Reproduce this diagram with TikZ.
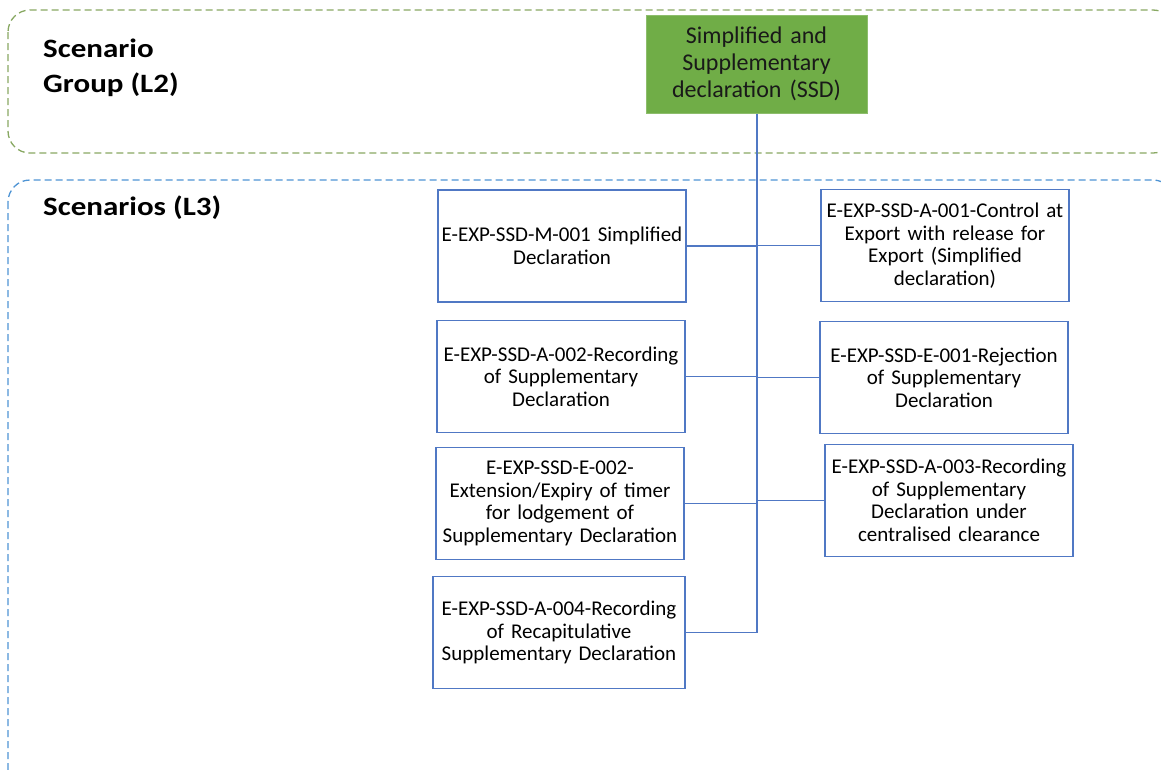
\documentclass[tikz,border=0pt]{standalone}
\usepackage{fontspec}
\setmainfont{Carlito}
\newfontfamily\zonefont[FakeStretch=1.17]{Carlito}
\usetikzlibrary{positioning,calc}
\definecolor{groupgreen}{RGB}{112,173,71}
\definecolor{zonegreen}{RGB}{136,168,98}
\definecolor{zoneblue}{RGB}{78,148,212}
\definecolor{boxblue}{RGB}{80,120,196}
\tikzset{
  zone/.style={
    dash pattern=on 7pt off 4pt,
    line width=1.3pt,
    rounded corners=22pt
  },
  zone label/.style={
    anchor=north west,
    align=left,
    inner sep=0pt,
    font=\zonefont\fontsize{26.5}{35}\selectfont\bfseries
  },
  group box/.style={
    draw=groupgreen!80!white,
    fill=groupgreen,
    line width=1pt,
    minimum width=221pt,
    minimum height=98pt,
    text width=215pt,
    inner xsep=3pt,
    align=center,
    text=black!90,
    font=\fontsize{24}{27}\selectfont
  },
  scen box/.style={
    draw=boxblue,
    line width=1.2pt,
    minimum width=248pt,
    minimum height=112pt,
    text width=242pt,
    inner xsep=3pt,
    align=center,
    font=\fontsize{21}{22.5}\selectfont
  },
  trunk/.style={draw=boxblue, line width=2pt},
  branch/.style={draw=boxblue, line width=1.3pt}
}
\begin{document}
\begin{tikzpicture}[x=1pt,y=-1pt]
  \clip (0,0) rectangle (1161,769);
  % zones
  \draw[zone, draw=zonegreen] (8,10) rectangle (1175,153);
  \draw[zone, draw=zoneblue] (8,180) rectangle (1175,820);
  \node[zone label] (l2) at (43,39) {Scenario\\Group (L2)};
  \node[zone label] (l3) at (43,195.5) {Scenarios (L3)};

  % scenario group
  \node[group box] (ssd) at (756.5,64) {Simplified and\\Supplementary\\declaration (SSD)};

  % scenarios, left column
  \node[scen box] (m001) at (562,246) {E-EXP-SSD-M-001 Simplified\\Declaration};
  \node[scen box] (a002) at (561,376.5) {E-EXP-SSD-A-002-Recording\\of Supplementary\\Declaration};
  \node[scen box] (e002) at (560,503.5) {E-EXP-SSD-E-002-\\Extension/Expiry of timer\\for lodgement of\\Supplementary Declaration};
  \node[scen box, minimum width=252pt] (a004) at (559,632.5) {E-EXP-SSD-A-004-Recording\\of Recapitulative\\Supplementary Declaration};

  % scenarios, right column
  \node[scen box] (a001) at (945,245.5) {E-EXP-SSD-A-001-Control at\\Export with release for\\Export (Simplified\\declaration)};
  \node[scen box] (e001) at (944,377.5) {E-EXP-SSD-E-001-Rejection\\of Supplementary\\Declaration};
  \node[scen box] (a003) at (949,500.5) {E-EXP-SSD-A-003-Recording\\of Supplementary\\Declaration under\\centralised clearance};

  % connectors
  \coordinate (tip) at (ssd.south |- a004.west);
  \draw[trunk] (ssd.south) -- (tip);
  \foreach \s in {m001,a002,e002,a004}
    \draw[branch] (\s.east) -- (\s.east -| ssd.south);
  \foreach \s in {a001,e001,a003}
    \draw[branch] (\s.west) -- (\s.west -| ssd.south);
\end{tikzpicture}
\end{document}
